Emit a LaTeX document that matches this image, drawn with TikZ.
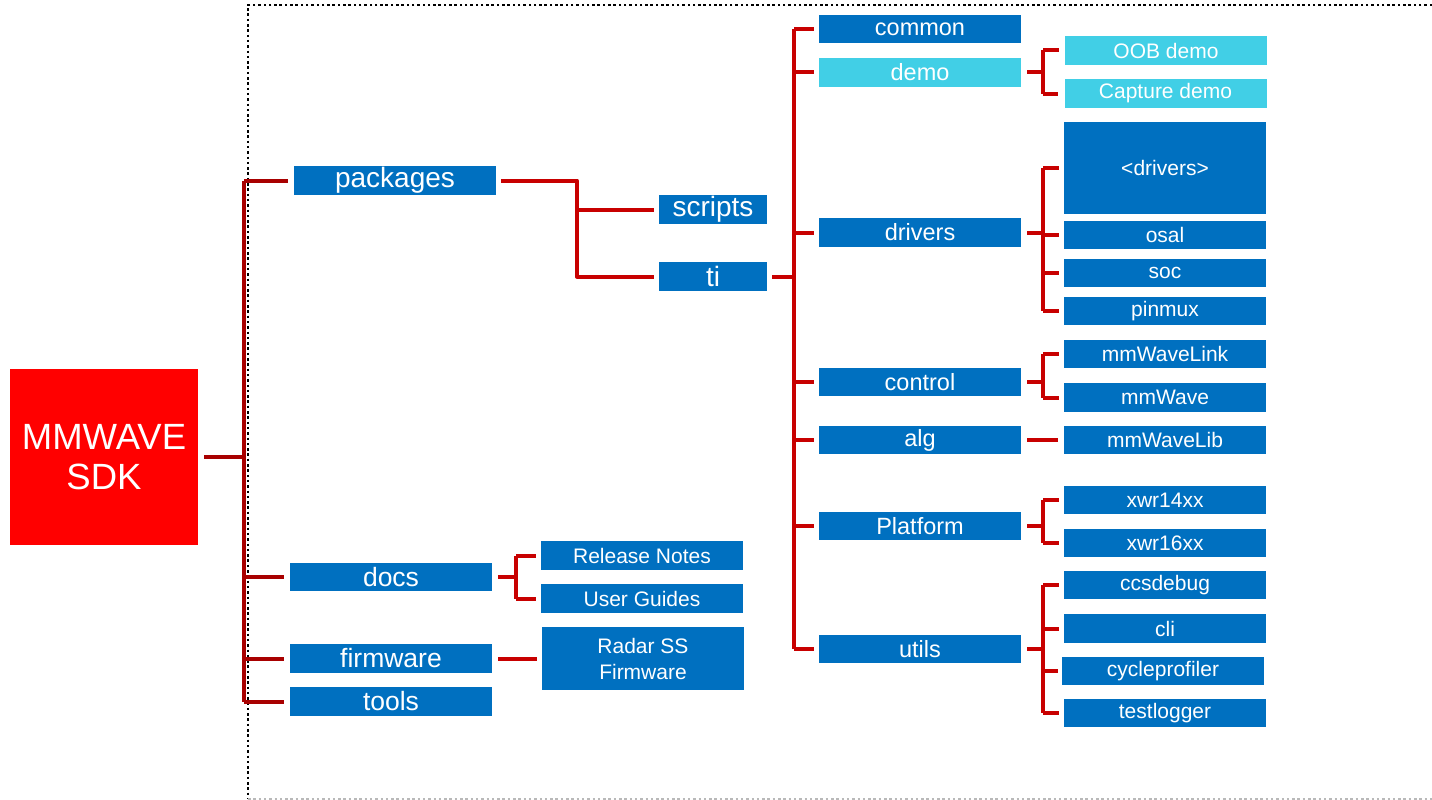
\documentclass[tikz,border=0pt]{standalone}
\usepackage{fontspec}
\setmainfont{Liberation Sans}
\definecolor{tiblue}{HTML}{0070C0}
\definecolor{ticyan}{HTML}{41CFE6}
\definecolor{sdkred}{HTML}{FF0000}
\definecolor{trunkred}{HTML}{A80000}
\definecolor{linkred}{HTML}{C80000}
\tikzset{
  bx/.style={fill=tiblue, text=white, inner sep=0pt, minimum width=202pt, minimum height=28pt, align=center},
  cy/.style={bx, fill=ticyan},
  fA/.style={font=\fontsize{28}{30}\selectfont},
  fB/.style={font=\fontsize{26.5}{28}\selectfont},
  fC/.style={font=\fontsize{23.5}{26}\selectfont},
  fD/.style={font=\fontsize{21}{26}\selectfont},
  trunk/.style={draw=trunkred, line width=4pt, line join=round},
  conn/.style={draw=linkred, line width=4pt, line join=round},
}
\begin{document}
\begin{tikzpicture}[x=1pt,y=-1pt]
\useasboundingbox (0,0) rectangle (1432,800);
% dotted frame
\draw[black, line width=2.5pt, dash pattern=on 2.5pt off 2.8pt] (1432,5) -- (248,5) -- (248,799);
\draw[gray!55, line width=1.8pt, dash pattern=on 2.5pt off 2.8pt] (248,799) -- (1432,799);

% root
\node[bx, fill=sdkred, minimum width=188pt, minimum height=176pt, font=\fontsize{36.5}{40}\selectfont] (sdk) at (104,457) {MMWAVE\\SDK};

% level 1
\node[bx, fA, minimum height=29pt] (packages) at (395,180.5) {packages};
\node[bx, fB] (docs) at (391,577) {docs};
\node[bx, fB, minimum height=29pt] (firmware) at (391,658.5) {firmware};
\node[bx, fB, minimum height=29pt] (tools) at (391,701.5) {tools};

% level 2
\node[bx, fA, minimum width=108pt, minimum height=29pt] (scripts) at (713,209.5) {scripts};
\node[bx, fA, minimum width=108pt, minimum height=29pt] (ti) at (713,276.5) {ti};
\node[bx, fD, minimum height=29pt] (relnotes) at (642,555.5) {Release Notes};
\node[bx, fD, minimum height=29pt] (userguides) at (642,598.5) {User Guides};
\node[bx, fD, minimum height=63pt] (radar) at (643,658.5) {Radar SS\\Firmware};

% level 3
\node[bx, fC] (common) at (920,29) {common};
\node[cy, fC, minimum height=29pt] (demo) at (920,72.5) {demo};
\node[bx, fC, minimum height=29pt] (drivers) at (920,232.5) {drivers};
\node[bx, fC] (control) at (920,382) {control};
\node[bx, fC] (alg) at (920,440) {alg};
\node[bx, fC] (platform) at (920,526) {Platform};
\node[bx, fC] (utils) at (920,649) {utils};

% level 4
\node[cy, fD, minimum height=29pt] (oob) at (1166,50.5) {OOB demo};
\node[cy, fD, minimum height=29pt] (capture) at (1165.5,93.5) {Capture demo};
\node[bx, fD, minimum height=92pt] (drvlist) at (1165,168) {<drivers>};
\node[bx, fD] (osal) at (1165,235) {osal};
\node[bx, fD] (soc) at (1165,273) {soc};
\node[bx, fD] (pinmux) at (1165,311) {pinmux};
\node[bx, fD] (mmwlink) at (1165,354) {mmWaveLink};
\node[bx, fD, minimum height=29pt] (mmwave) at (1165,397.5) {mmWave};
\node[bx, fD] (mmwlib) at (1165,440) {mmWaveLib};
\node[bx, fD] (xwr14) at (1165,500) {xwr14xx};
\node[bx, fD] (xwr16) at (1165,543) {xwr16xx};
\node[bx, fD] (ccsdebug) at (1165,585) {ccsdebug};
\node[bx, fD, minimum height=29pt] (cli) at (1165,628.5) {cli};
\node[bx, fD] (cycprof) at (1163,671) {cycleprofiler};
\node[bx, fD] (testlogger) at (1165,713) {testlogger};

% junction columns
\coordinate (j0) at (244,0);
\coordinate (j1) at (577,0);
\coordinate (j2) at (794,0);
\coordinate (j3) at (1043,0);
\coordinate (j4) at (516,0);

% root trunk
\draw[trunk] ([xshift=6pt]sdk.east) -- (sdk.east -| j0);
\draw[trunk] (packages.west -| j0) -- (tools.west -| j0);
\foreach \n in {packages,docs,firmware,tools}
  \draw[trunk] (\n.west -| j0) -- ([xshift=-6pt]\n.west);

% packages -> scripts, ti
\draw[conn] ([xshift=5pt]packages.east) -| (ti.west -| j1) -- ([xshift=-5pt]ti.west);
\draw[conn] (scripts.west -| j1) -- ([xshift=-5pt]scripts.west);

% ti -> level 3
\draw[conn] ([xshift=5pt]ti.east) -- (ti.east -| j2);
\draw[conn] (common.west -| j2) -- (utils.west -| j2);
\foreach \n in {common,demo,drivers,control,alg,platform,utils}
  \draw[conn] (\n.west -| j2) -- ([xshift=-5pt]\n.west);

% demo
\draw[conn] ([xshift=6pt]demo.east) -- (demo.east -| j3);
\draw[conn] (oob.west -| j3) -- (capture.west -| j3);
\foreach \n in {oob,capture}
  \draw[conn] (\n.west -| j3) -- ([xshift=-6pt]\n.west);

% drivers
\draw[conn] ([xshift=6pt]drivers.east) -- (drivers.east -| j3);
\draw[conn] (drvlist.west -| j3) -- (pinmux.west -| j3);
\foreach \n in {drvlist,osal,soc,pinmux}
  \draw[conn] (\n.west -| j3) -- ([xshift=-5pt]\n.west);

% control
\draw[conn] ([xshift=6pt]control.east) -- (control.east -| j3);
\draw[conn] (mmwlink.west -| j3) -- (mmwave.west -| j3);
\foreach \n in {mmwlink,mmwave}
  \draw[conn] (\n.west -| j3) -- ([xshift=-5pt]\n.west);

% alg
\draw[conn] ([xshift=6pt]alg.east) -- ([xshift=-6pt]mmwlib.west);

% platform
\draw[conn] ([xshift=6pt]platform.east) -- (platform.east -| j3);
\draw[conn] (xwr14.west -| j3) -- (xwr16.west -| j3);
\foreach \n in {xwr14,xwr16}
  \draw[conn] (\n.west -| j3) -- ([xshift=-5pt]\n.west);

% utils
\draw[conn] ([xshift=6pt]utils.east) -- (utils.east -| j3);
\draw[conn] (ccsdebug.west -| j3) -- (testlogger.west -| j3);
\draw[conn] (ccsdebug.west -| j3) -- ([xshift=-5pt]ccsdebug.west);
\draw[conn] (cli.west -| j3) -- ([xshift=-5pt]cli.west);
\draw[conn] (cycprof.west -| j3) -- ([xshift=-4pt]cycprof.west);
\draw[conn] (testlogger.west -| j3) -- ([xshift=-5pt]testlogger.west);

% docs
\draw[conn] ([xshift=6pt]docs.east) -- (docs.east -| j4);
\draw[conn] (relnotes.west -| j4) -- (userguides.west -| j4);
\foreach \n in {relnotes,userguides}
  \draw[conn] (\n.west -| j4) -- ([xshift=-5pt]\n.west);

% firmware
\draw[conn] ([xshift=6pt]firmware.east) -- ([xshift=-5pt]radar.west);
\end{tikzpicture}
\end{document}
